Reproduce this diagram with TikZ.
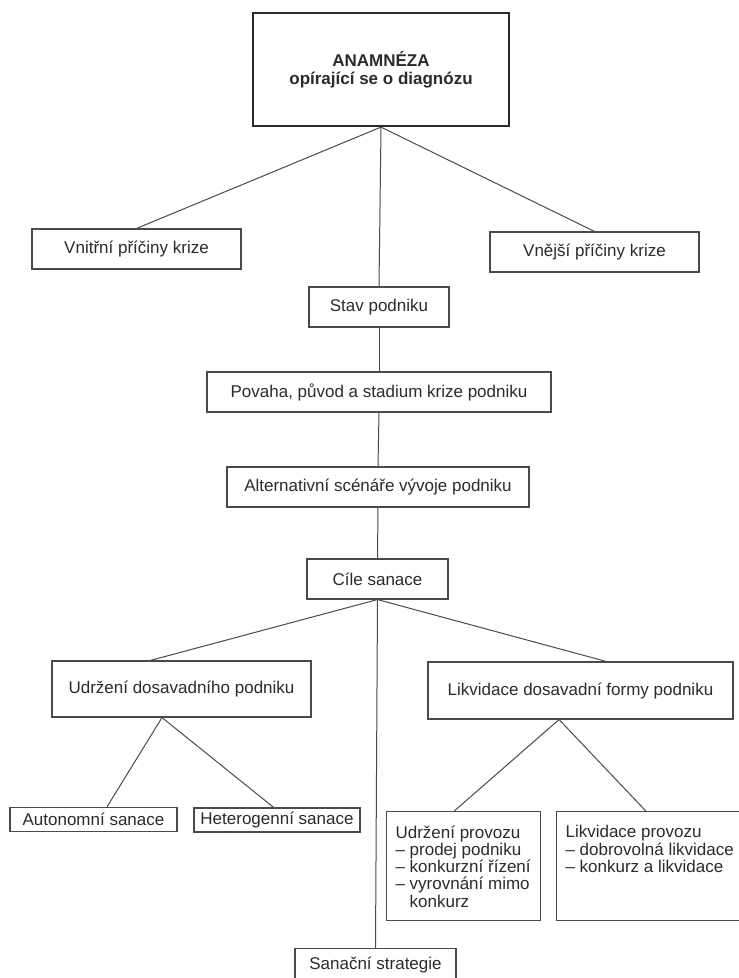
\documentclass[tikz,border=0pt]{standalone}
\usepackage{fontspec}
\setmainfont{Liberation Sans}
\usetikzlibrary{calc}
\definecolor{ink}{HTML}{2B2B2B}
\definecolor{wire}{HTML}{4A4A4A}
\begin{document}
\begin{tikzpicture}[x=1pt,y=-1pt,
  every node/.style={font=\fontsize{17pt}{17.3pt}\selectfont, text=ink},
  box/.style={draw=wire, line width=1.1pt, inner sep=0pt, align=center},
  listbox/.style={draw=wire, line width=1.1pt, inner xsep=9pt, inner ysep=0pt, anchor=north west},
  link/.style={draw=wire, line width=1pt}]
\useasboundingbox (0,0) rectangle (739,978);
\clip (0,0) rectangle (739,978);
\fill[white] (0,0) rectangle (739,978);

\node[box, line width=2.2pt, draw=ink, minimum width=256pt, minimum height=113pt,
      font=\fontsize{17pt}{18pt}\selectfont\bfseries] (top) at (381,69.5)
      {ANAMNÉZA\\opírající se o diagnózu};

\node[box, minimum width=209pt, minimum height=40pt] (vnitrni) at (136.5,249) {Vnitřní příčiny krize};
\node[box, minimum width=209pt, minimum height=40pt] (vnejsi) at (594.5,252) {Vnější příčiny krize};
\node[box, minimum width=140pt, minimum height=40pt] (stav) at (379,307) {Stav podniku};
\node[box, minimum width=344pt, minimum height=40pt] (povaha) at (379,392) {Povaha, původ a stadium krize podniku};
\node[box, minimum width=302pt, minimum height=40pt] (altern) at (378,487) {Alternativní scénáře vývoje podniku};
\node[box, minimum width=141pt, minimum height=40pt] (cile) at (377.5,579) {Cíle sanace};
\node[box, minimum width=259pt, minimum height=56pt] (udrz) at (181.5,689) {Udržení dosavadního podniku};
\node[box, minimum width=305pt, minimum height=57pt] (likv) at (580.5,690.5) {Likvidace dosavadní formy podniku};
\node[box, minimum width=167pt, minimum height=24pt] (auton) at (93.5,819.5) {Autonomní sanace};
\node[box, minimum width=166pt, minimum height=24pt] (hetero) at (277,820) {Heterogenní sanace};

\node[listbox] (udrprov) at (386,811)
  {\parbox[c][109pt][t]{136pt}{\raggedright\vspace*{14pt}Udržení provozu\\
   – prodej podniku\\
   – konkurzní řízení\\
   – vyrovnání mimo\\
   \phantom{– }konkurz}};
\node[listbox] (likprov) at (556,811)
  {\parbox[c][109pt][t]{172pt}{\raggedright\vspace*{14pt}Likvidace provozu\\
   – dobrovolná likvidace\\
   – konkurz a likvidace}};

\node[box, anchor=north, minimum width=161pt, minimum height=32pt] (sanacni) at (375.5,948) {Sanační strategie};

% connectors
\coordinate (cUdrzTop) at ($(udrz.north west)!0.38!(udrz.north east)$);
\coordinate (cLikvTop) at ($(likv.north west)!0.584!(likv.north east)$);
\coordinate (cUdrzBot) at ($(udrz.south west)!0.425!(udrz.south east)$);
\coordinate (cLikvBot) at ($(likv.south west)!0.43!(likv.south east)$);
\coordinate (cAutTop) at ($(auton.north west)!0.58!(auton.north east)$);
\coordinate (cHetTop) at ($(hetero.north west)!0.48!(hetero.north east)$);
\coordinate (cUprTop) at ($(udrprov.north west)!0.44!(udrprov.north east)$);
\coordinate (cLprTop) at ($(likprov.north west)!0.47!(likprov.north east)$);

\draw[link] (top.south) -- (vnitrni.north);
\draw[link] (top.south) -- (vnejsi.north);
\draw[link] (top.south) -- (stav.north);
\draw[link] (stav.south) -- (povaha.north);
\draw[link] (povaha.south) -- (altern.north);
\draw[link] (altern.south) -- (cile.north);
\draw[link] (cile.south) -- (cUdrzTop);
\draw[link] (cile.south) -- (cLikvTop);
\draw[link] (cile.south) -- (sanacni.north);
\draw[link] (cUdrzBot) -- (cAutTop);
\draw[link] (cUdrzBot) -- (cHetTop);
\draw[link] (cLikvBot) -- (cUprTop);
\draw[link] (cLikvBot) -- (cLprTop);
\end{tikzpicture}
\end{document}
